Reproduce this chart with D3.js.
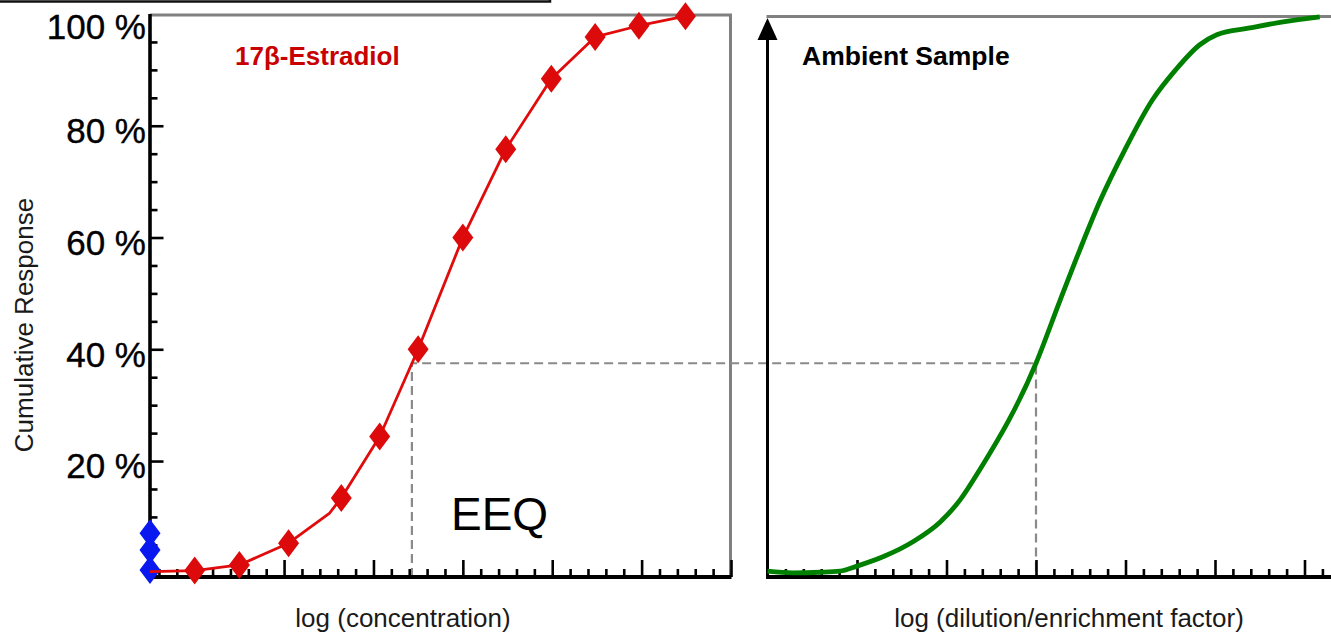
<!DOCTYPE html>
<html><head><meta charset="utf-8">
<script src="https://cdn.jsdelivr.net/npm/d3@7"></script>
<style>
body{margin:0;background:#fff;}
svg{display:block;font-family:"Liberation Sans",Arial,Helvetica,sans-serif;}
</style>
</head><body>
<svg id="c" width="1331" height="634"></svg>
<script>
// ---------- data ----------
const yTickValues = [20, 40, 60, 80, 100];
const yTickLabels = ["20 %", "40 %", "60 %", "80 %", "100 %"];

// 17β-Estradiol standard curve (log concentration units, cumulative response %)
const estradiolX = [1, 1.5, 2.05, 2.64, 3.07, 3.5, 4, 4.48, 4.99, 5.48, 5.97, 6.49];
const estradiolY = [0.4, 1.4, 5.3, 13.4, 24.4, 40.0, 60.0, 75.8, 88.4, 95.9, 97.9, 99.6];
// connecting line of the standard (includes start at the axis and a bend point)
const estradiolLineX = [0.5, 1, 1.5, 2.05, 2.51, 2.64, 3.07, 3.5, 4, 4.48, 4.99, 5.48, 5.97, 6.49];
const estradiolLineY = [0.2, 0.4, 1.4, 5.3, 10.7, 13.4, 24.4, 40.0, 60.0, 75.8, 88.4, 95.9, 97.9, 99.6];

// blanks / controls on the y axis
const blankX = [0.5, 0.5, 0.5];
const blankY = [0.5, 4.1, 7.1];

// Ambient sample curve (log dilution/enrichment factor, cumulative response %)
const ambientX = [0, 0.28, 0.59, 0.81, 1.0, 1.31, 1.63, 1.93, 2.15, 2.37, 3.0, 3.27, 3.49, 3.72, 3.99, 4.3, 4.56, 4.83, 5.02, 5.39, 5.76, 6.17];
const ambientY = [0.3, 0.0, 0.1, 0.3, 1.2, 3.0, 5.6, 9.1, 13.0, 18.4, 37.5, 48.8, 57.8, 66.7, 75.6, 84.6, 90.0, 94.5, 96.3, 97.5, 98.6, 99.5];

// EEQ read-off
const eeqResponse = 37.5;
const eeqStandardX = 3.43;
const eeqAmbientX = 3.0;

// ---------- drawing ----------
const svg = d3.select("#c");
svg.append("rect").attr("width", 1331).attr("height", 634).attr("fill", "#fff");

const y = d3.scaleLinear([0, 100], [572.8, 14]);
const xL = d3.scaleLinear([0.5, 7], [150, 731]);
const xR = d3.scaleLinear([0, 6.3], [767.5, 1331.35]);
const axisY = 577;

// top black box edge
svg.append("path").attr("d", "M0,1.5H550V0").attr("fill", "none")
  .attr("stroke", "#111").attr("stroke-width", 2.5);

// gray frames
svg.append("path").attr("d", `M${xL(0.5)},15H${xL(7)-0.5}V${axisY+2}`)
  .attr("fill", "none").attr("stroke", "#808080").attr("stroke-width", 3);
svg.append("path").attr("d", `M${xR(0)-1},16.5H1331`)
  .attr("fill", "none").attr("stroke", "#808080").attr("stroke-width", 3);

// dashed EEQ guide
svg.append("path")
  .attr("d", `M${xL(eeqStandardX)},${axisY}V${y(eeqResponse)}H${xR(eeqAmbientX)}V${axisY}`)
  .attr("fill", "none").attr("stroke", "#8a8a8a").attr("stroke-width", 2.2)
  .attr("stroke-dasharray", "9,5");

// ---- left y axis ticks ----
const minorY = d3.range(5, 100, 5).filter(v => v % 20 !== 0);
const majorY = [20, 40, 60, 80];
function styleAxis(g) {
  g.select(".domain").remove();
  g.selectAll(".tick line").attr("stroke", "#000").attr("stroke-width", 2.6);
}
svg.append("g").attr("transform", `translate(${xL(0.5)},0)`)
  .call(d3.axisLeft(y).tickValues(minorY).tickSize(-7.5).tickFormat("")).call(styleAxis);
svg.append("g").attr("transform", `translate(${xL(0.5)},0)`)
  .call(d3.axisLeft(y).tickValues(majorY).tickSize(-13.5).tickFormat("")).call(styleAxis);
svg.append("line").attr("x1", xL(0.5)).attr("x2", xL(0.5)).attr("y1", 14).attr("y2", axisY + 2)
  .attr("stroke", "#000").attr("stroke-width", 3.6);

// y tick labels
svg.append("g").selectAll("text").data(yTickValues).join("text")
  .attr("x", 146)
  .attr("y", d => Math.max(y(d) + 17.3, 38.5))
  .attr("text-anchor", "end")
  .attr("font-size", 35)
  .attr("fill", "#000")
  .attr("stroke", "#000")
  .attr("stroke-width", 0.4)
  .text((d, i) => yTickLabels[i]);

// ---- left x axis ----
const leftTicks = d3.range(0.6, 7.001, 0.2).map(v => +v.toFixed(1));
const leftMajor = leftTicks.filter(v => Math.abs(v - Math.round(v)) < 1e-6);
const leftMinor = leftTicks.filter(v => Math.abs(v - Math.round(v)) >= 1e-6);
svg.append("g").attr("transform", `translate(0,${axisY})`)
  .call(d3.axisBottom(xL).tickValues(leftMinor).tickSize(-8).tickFormat("")).call(styleAxis);
svg.append("g").attr("transform", `translate(0,${axisY})`)
  .call(d3.axisBottom(xL).tickValues(leftMajor).tickSize(-17).tickFormat("")).call(styleAxis);
svg.append("line").attr("x1", xL(0.5) - 2).attr("x2", xL(7)).attr("y1", axisY).attr("y2", axisY)
  .attr("stroke", "#000").attr("stroke-width", 4);

// ---- right axes ----
const rightTicks = d3.range(0.2, 6.301, 0.2).map(v => +v.toFixed(1));
const rightMajor = rightTicks.filter(v => Math.abs(v - Math.round(v)) < 1e-6);
const rightMinor = rightTicks.filter(v => Math.abs(v - Math.round(v)) >= 1e-6);
svg.append("g").attr("transform", `translate(0,${axisY})`)
  .call(d3.axisBottom(xR).tickValues(rightMinor).tickSize(-8).tickFormat("")).call(styleAxis);
svg.append("g").attr("transform", `translate(0,${axisY})`)
  .call(d3.axisBottom(xR).tickValues(rightMajor).tickSize(-17).tickFormat("")).call(styleAxis);
svg.append("line").attr("x1", xR(0) - 1.5).attr("x2", 1331).attr("y1", axisY).attr("y2", axisY)
  .attr("stroke", "#000").attr("stroke-width", 4);
svg.append("line").attr("x1", xR(0)).attr("x2", xR(0)).attr("y1", axisY + 2).attr("y2", 38)
  .attr("stroke", "#000").attr("stroke-width", 3);
const ax = xR(0), ay = y(100) + 4;
svg.append("path").attr("d", `M${ax - 10},${ay + 22}L${ax},${ay}L${ax + 10},${ay + 22}Z`).attr("fill", "#000");

// ---- series ----
const diamond = "M0,-14L10.5,0L0,14L-10.5,0Z";

svg.append("g").selectAll("path").data(blankY).join("path")
  .attr("d", diamond)
  .attr("transform", (d, i) => `translate(${xL(blankX[i])},${y(d)})`)
  .attr("fill", "#0a18f0");

const redLine = d3.line().x(d => xL(d[0])).y(d => y(d[1]));
svg.append("path")
  .attr("d", redLine(d3.zip(estradiolLineX, estradiolLineY)))
  .attr("fill", "none").attr("stroke", "#e00b0b").attr("stroke-width", 2.8)
  .attr("stroke-linejoin", "round");

svg.append("g").selectAll("path").data(estradiolY).join("path")
  .attr("d", diamond)
  .attr("transform", (d, i) => `translate(${xL(estradiolX[i])},${y(d)})`)
  .attr("fill", "#dc0a0a");

const greenLine = d3.line().curve(d3.curveMonotoneX).x(d => xR(d[0])).y(d => y(d[1]));
svg.append("path")
  .attr("d", greenLine(d3.zip(ambientX, ambientY)))
  .attr("fill", "none").attr("stroke", "#008000").attr("stroke-width", 4.8)
  .attr("stroke-linecap", "butt");

// ---- texts ----
svg.append("text").attr("x", 235).attr("y", 65)
  .attr("font-size", 26).attr("font-weight", "bold").attr("fill", "#c80000")
  .text("17β-Estradiol");
svg.append("text").attr("x", 802).attr("y", 64.5)
  .attr("font-size", 26.5).attr("font-weight", "bold").attr("fill", "#000")
  .text("Ambient Sample");
svg.append("text").attr("x", 451).attr("y", 530)
  .attr("font-size", 46).attr("fill", "#000").text("EEQ");

svg.append("text").attr("transform", "translate(33,325) rotate(-90)")
  .attr("text-anchor", "middle").attr("font-size", 26).attr("fill", "#1a1a1a")
  .text("Cumulative Response");
svg.append("text").attr("x", 403).attr("y", 626.5)
  .attr("text-anchor", "middle").attr("font-size", 26).attr("fill", "#1a1a1a")
  .text("log (concentration)");
svg.append("text").attr("x", 1069).attr("y", 626.5)
  .attr("text-anchor", "middle").attr("font-size", 26).attr("fill", "#1a1a1a")
  .text("log (dilution/enrichment factor)");
</script>
</body></html>
